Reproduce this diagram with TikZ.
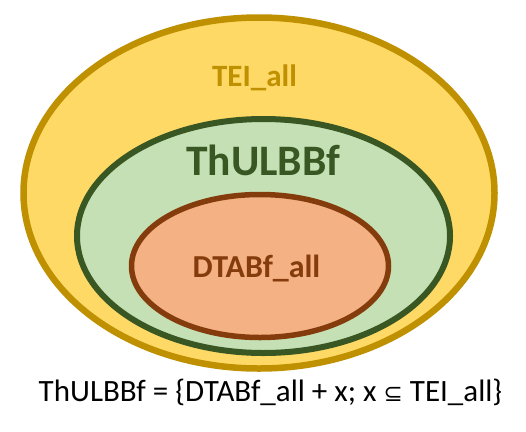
\documentclass[tikz,border=0pt]{standalone}
\usepackage{fontspec}
\setmainfont{Carlito}
\newfontfamily\symfont{DejaVu Sans}
\definecolor{yfill}{HTML}{FFD966}
\definecolor{ydraw}{HTML}{BF9000}
\definecolor{gfill}{HTML}{C5E0B4}
\definecolor{gdraw}{HTML}{385723}
\definecolor{ofill}{HTML}{F4B183}
\definecolor{odraw}{HTML}{843C0C}
\begin{document}
\begin{tikzpicture}[x=1pt,y=-1pt,
  setlabel/.style={inner sep=0pt, anchor=base}]
\useasboundingbox (0,0) rectangle (526,431);
\fill[white] (0,0) rectangle (526,431);
\coordinate (co) at (259,193);
\coordinate (cg) at (263.5,236);
\coordinate (cr) at (260,266);
\draw[line width=6.5pt, draw=ydraw, fill=yfill] (co) ellipse [x radius=235.5, y radius=175.5];
\draw[line width=6pt, draw=gdraw, fill=gfill] (cg) ellipse [x radius=186.5, y radius=117];
\draw[line width=5.5pt, draw=odraw, fill=ofill] (cr) ellipse [x radius=128.5, y radius=71.5];
\node[setlabel, text=ydraw, font=\bfseries\fontsize{31}{36}\selectfont] (tei) at (254.5,86.5) {TEI\_all};
\node[setlabel, text=gdraw, font=\bfseries\fontsize{43.5}{50}\selectfont] (thu) at (263,175) {ThULBBf};
\node[setlabel, text=odraw, font=\bfseries\fontsize{32}{38}\selectfont] (dta) at (256.5,277) {DTABf\_all};
\node[setlabel, font=\fontsize{31}{36}\selectfont] (formula) at (270.5,401.5) {ThULBBf = \{DTABf\_all + x; x {\symfont\fontsize{23}{26}\selectfont ⊆} TEI\_all\}};
\end{tikzpicture}
\end{document}
